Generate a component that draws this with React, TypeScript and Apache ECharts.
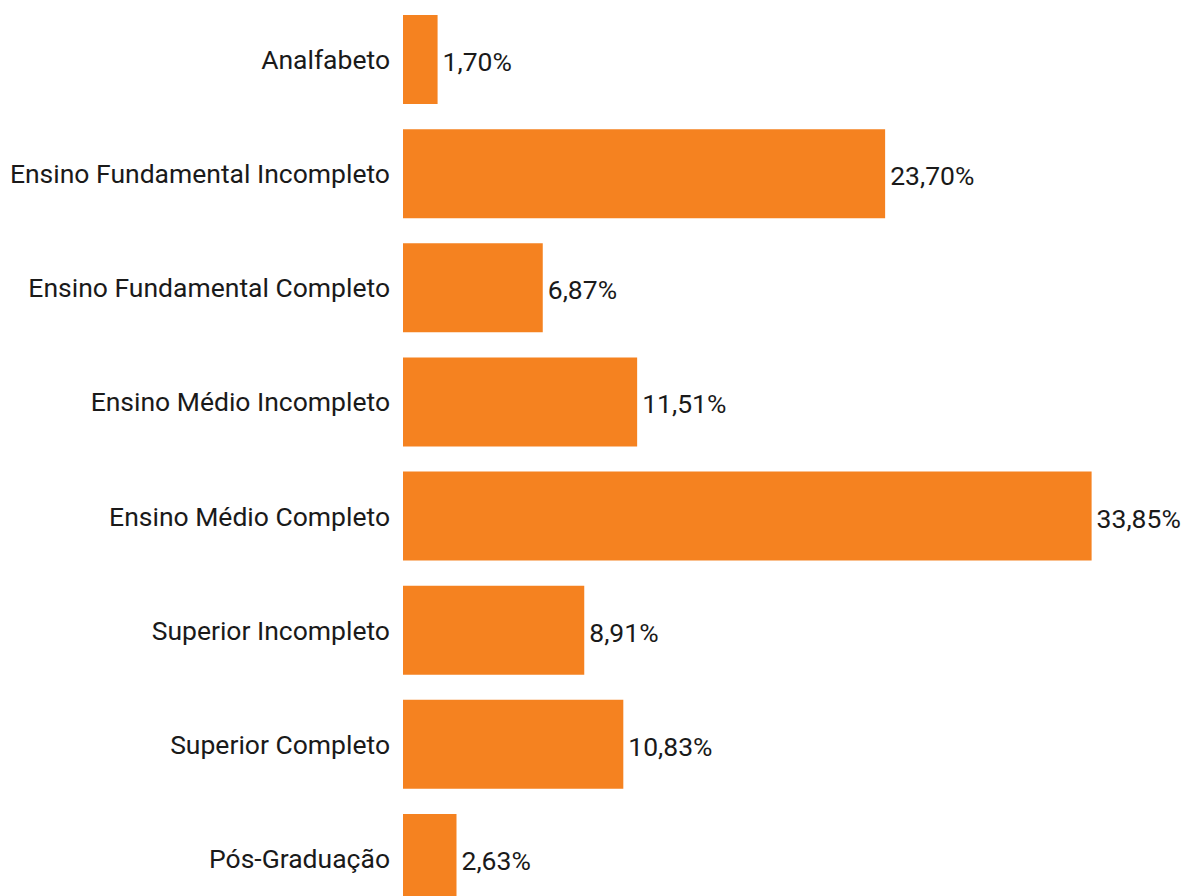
import React, { useEffect, useRef } from "react";
import * as echarts from "echarts";

const categories = [
  "Analfabeto",
  "Ensino Fundamental Incompleto",
  "Ensino Fundamental Completo",
  "Ensino Médio Incompleto",
  "Ensino Médio Completo",
  "Superior Incompleto",
  "Superior Completo",
  "Pós-Graduação",
];
const values = [1.7, 23.7, 6.87, 11.51, 33.85, 8.91, 10.83, 2.63];

export default function App() {
  const ref = useRef<HTMLDivElement>(null);
  useEffect(() => {
    document.body.style.margin = "0";
    document.body.style.overflow = "hidden";
    const chart = echarts.init(ref.current!, null, { renderer: "svg" });
    chart.setOption({
      animation: false,
      backgroundColor: "#ffffff",
      textStyle: { fontFamily: "Roboto" },
      grid: { left: 403, top: 2.5, width: 712, height: 913, containLabel: false },
      xAxis: {
        type: "value",
        min: 0,
        max: 35,
        show: false,
        splitLine: { show: false },
      },
      yAxis: {
        type: "category",
        inverse: true,
        data: categories,
        axisLine: { show: false },
        axisTick: { show: false },
        axisLabel: {
          margin: 13,
          fontSize: 26.5,
          color: "#1a1a1a",
          fontFamily: "Roboto",
        },
      },
      series: [
        {
          type: "bar",
          data: values,
          barCategoryGap: "22%",
          itemStyle: { color: "#F58220" },
          label: {
            show: true,
            position: "right",
            distance: 5,
            offset: [0, 2],
            fontSize: 26.5,
            color: "#1a1a1a",
            fontFamily: "Roboto",
            formatter: (p: any) => p.value.toFixed(2).replace(".", ",") + "%",
          },
        },
      ],
    });
    return () => chart.dispose();
  }, []);
  return (
    <div
      style={{
        position: "absolute",
        left: 0,
        top: 0,
        width: 1185,
        height: 896,
        overflow: "hidden",
        background: "#ffffff",
      }}
    >
      <div ref={ref} style={{ width: 1185, height: 930 }} />
    </div>
  );
}
